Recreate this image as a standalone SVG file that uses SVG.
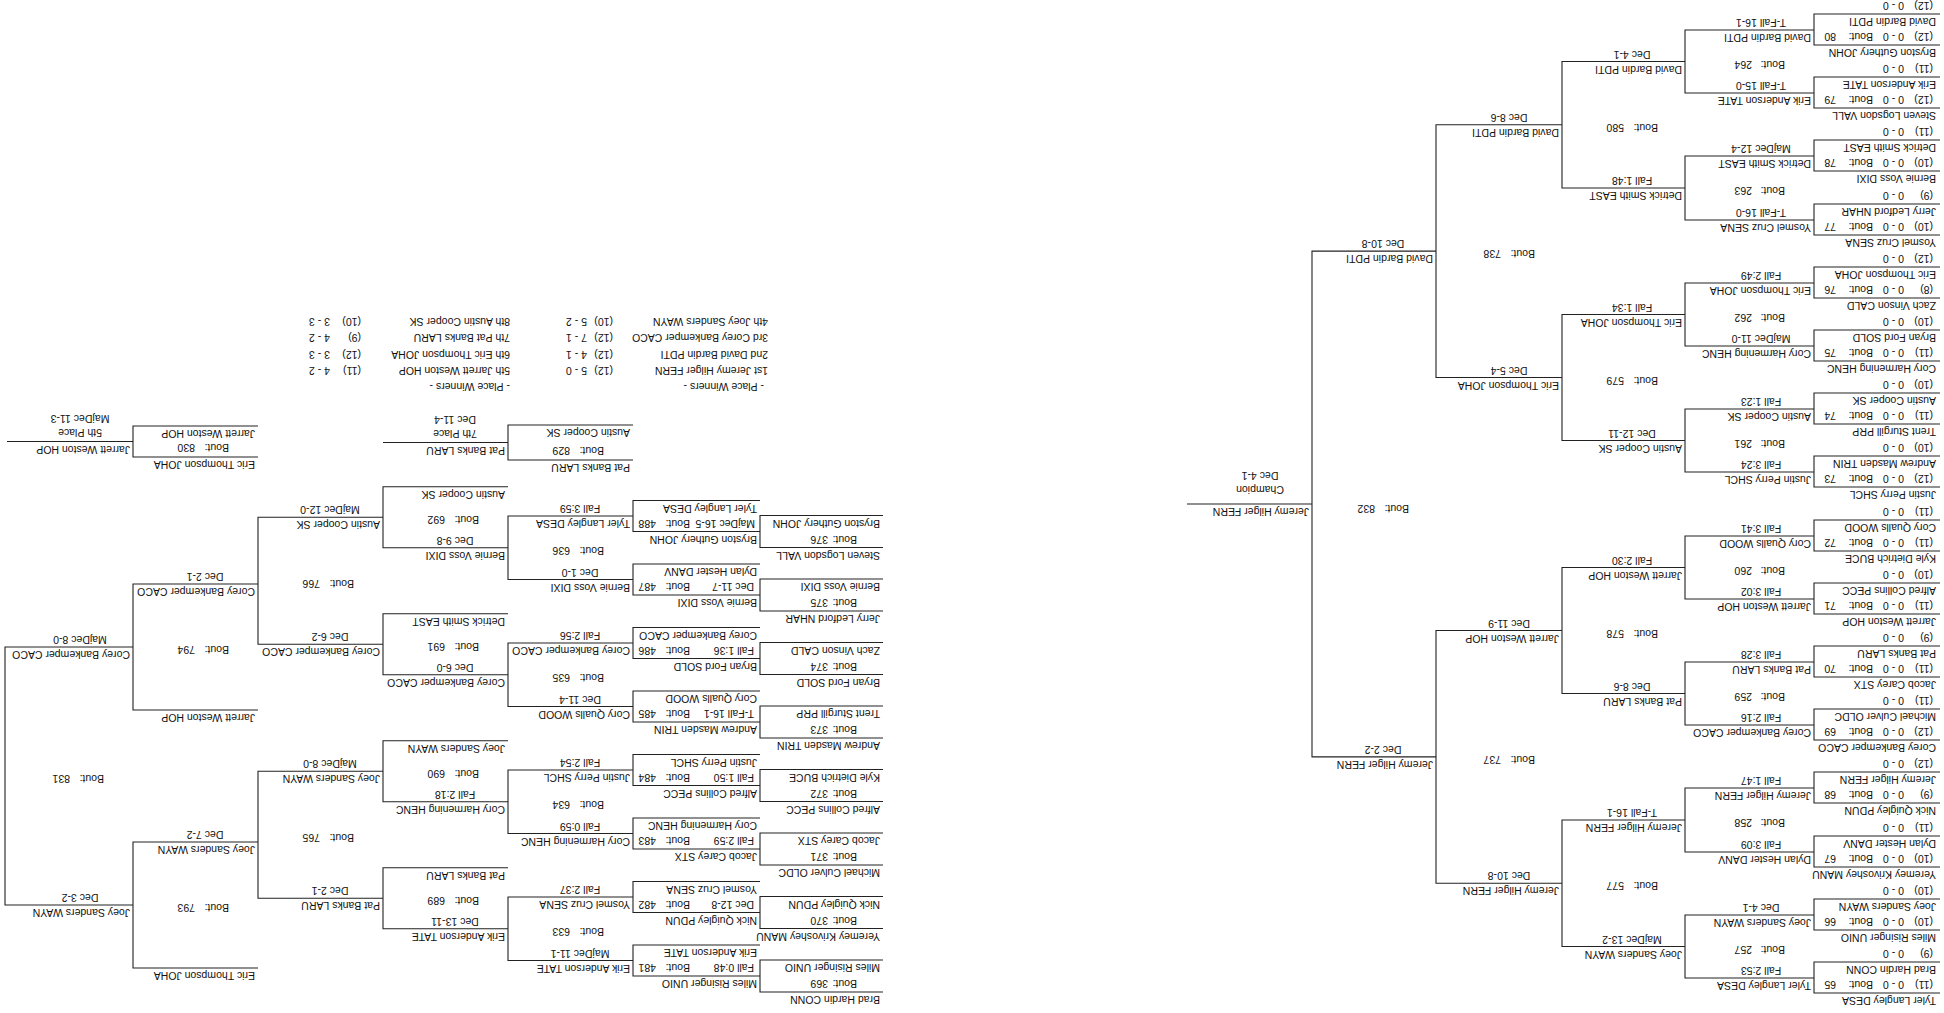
<svg xmlns="http://www.w3.org/2000/svg" width="1944" height="1013" viewBox="0 0 1944 1013">
<style>
text{font-family:"Liberation Sans",Arial,sans-serif;font-size:10.5px;fill:#111}
.m{text-anchor:middle}
#connectors path{stroke:#222;stroke-width:1.1;fill:none}
</style>
<rect width="1944" height="1013" fill="#fff"/>
<g transform="rotate(180 972 506.5)">
<g id="connectors">
<path d="M4 20H130V51H4M4 83H130V114H4M4 146H130V177H4M4 210H130V241H4M4 273H130V304H4M4 336H130V367H4M4 399H130V430H4M4 462H130V493H4M4 526H130V557H4M4 589H130V620H4M4 652H130V683H4M4 715H130V746H4M4 778H130V809H4M4 842H130V873H4M4 905H130V936H4M4 968H130V999H4"/>
<path d="M130 35H259V98H130M130 161H259V225H130M130 288H259V351H130M130 414H259V477H130M130 541H259V604H130M130 667H259V730H130M130 793H259V857H130M130 920H259V983H130"/>
<path d="M259 66.5H382V193H259M259 319.5H382V445.5H259M259 572.5H382V698.5H259M259 825H382V951.5H259"/>
<path d="M382 129.75H508V382.5H382M382 635.5H508V888.25H382"/>
<path d="M508 256.1H632V761.9H508M632 509H757"/>
<path d="M1061 21H1184V53H1061M1061 84.5H1184V116.5H1061M1061 148H1184V180H1061M1061 211.5H1184V243.5H1061M1061 275H1184V307H1061M1061 338.5H1184V370.5H1061M1061 402H1184V434H1061M1061 465.5H1184V497.5H1061"/>
<path d="M1184 37H1311V68H1184M1184 100.5H1311V131.5H1184M1184 164H1311V195H1184M1184 227.5H1311V258.5H1184M1184 291H1311V322H1184M1184 354.5H1311V385.5H1184M1184 418H1311V449H1184M1184 481.5H1311V512.5H1184"/>
<path d="M1311 52.5H1436V116H1311M1311 179.5H1436V243H1311M1311 306.5H1436V370H1311M1311 433.5H1436V497H1311"/>
<path d="M1436 84.25H1561V145.25H1436M1436 211.25H1561V272.25H1436M1436 338.25H1561V399.25H1436M1436 465.25H1561V526.25H1436"/>
<path d="M1561 114.75H1686V241.75H1561M1561 368.75H1686V495.75H1561"/>
<path d="M1686 45H1811V171H1686M1686 303H1811V429H1686M1811 108H1939V366H1811"/>
<path d="M1686 556H1811V587H1686M1811 571.5H1937M1311 553H1436V588H1311M1436 570.5H1561"/>
</g>
<g id="bout-65"><text x="8" y="16">Tyler Langley DESA</text><text x="11" y="32">(11)</text><text x="40" y="32">0 - 0</text><text x="71" y="32">Bout:</text><text x="108" y="32">65</text><text x="8" y="47">Brad Hardin CONN</text><text x="11" y="63">(9)</text><text x="40" y="63">0 - 0</text></g>
<g id="bout-66"><text x="8" y="79">Miles Risinger UNIO</text><text x="11" y="95">(10)</text><text x="40" y="95">0 - 0</text><text x="71" y="95">Bout:</text><text x="108" y="95">66</text><text x="8" y="110">Joey Sanders WAYN</text><text x="11" y="126">(10)</text><text x="40" y="126">0 - 0</text></g>
<g id="bout-67"><text x="8" y="142">Yeremey Krivoshey MANU</text><text x="11" y="158">(10)</text><text x="40" y="158">0 - 0</text><text x="71" y="158">Bout:</text><text x="108" y="158">67</text><text x="8" y="173">Dylan Hester DANV</text><text x="11" y="189">(11)</text><text x="40" y="189">0 - 0</text></g>
<g id="bout-68"><text x="8" y="206">Nick Quigley PDUN</text><text x="11" y="222">(9)</text><text x="40" y="222">0 - 0</text><text x="71" y="222">Bout:</text><text x="108" y="222">68</text><text x="8" y="237">Jeremy Hilger FERN</text><text x="11" y="253">(12)</text><text x="40" y="253">0 - 0</text></g>
<g id="bout-69"><text x="8" y="269">Corey Bankemper CACO</text><text x="11" y="285">(12)</text><text x="40" y="285">0 - 0</text><text x="71" y="285">Bout:</text><text x="108" y="285">69</text><text x="8" y="300">Michael Culver OLDC</text><text x="11" y="316">(11)</text><text x="40" y="316">0 - 0</text></g>
<g id="bout-70"><text x="8" y="332">Jacob Carey STX</text><text x="11" y="348">(11)</text><text x="40" y="348">0 - 0</text><text x="71" y="348">Bout:</text><text x="108" y="348">70</text><text x="8" y="363">Pat Banks LARU</text><text x="11" y="379">(9)</text><text x="40" y="379">0 - 0</text></g>
<g id="bout-71"><text x="8" y="395">Jarrett Weston HOP</text><text x="11" y="411">(11)</text><text x="40" y="411">0 - 0</text><text x="71" y="411">Bout:</text><text x="108" y="411">71</text><text x="8" y="426">Alfred Collins PECC</text><text x="11" y="442">(10)</text><text x="40" y="442">0 - 0</text></g>
<g id="bout-72"><text x="8" y="458">Kyle Dietrich BUCE</text><text x="11" y="474">(11)</text><text x="40" y="474">0 - 0</text><text x="71" y="474">Bout:</text><text x="108" y="474">72</text><text x="8" y="489">Cory Qualls WOOD</text><text x="11" y="505">(11)</text><text x="40" y="505">0 - 0</text></g>
<g id="bout-73"><text x="8" y="522">Justin Perry SHCL</text><text x="11" y="538">(12)</text><text x="40" y="538">0 - 0</text><text x="71" y="538">Bout:</text><text x="108" y="538">73</text><text x="8" y="553">Andrew Masden TRIN</text><text x="11" y="569">(10)</text><text x="40" y="569">0 - 0</text></g>
<g id="bout-74"><text x="8" y="585">Trent Sturgill PRP</text><text x="11" y="601">(11)</text><text x="40" y="601">0 - 0</text><text x="71" y="601">Bout:</text><text x="108" y="601">74</text><text x="8" y="616">Austin Cooper SK</text><text x="11" y="632">(10)</text><text x="40" y="632">0 - 0</text></g>
<g id="bout-75"><text x="8" y="648">Cory Harmening HENC</text><text x="11" y="664">(11)</text><text x="40" y="664">0 - 0</text><text x="71" y="664">Bout:</text><text x="108" y="664">75</text><text x="8" y="679">Bryan Ford SOLD</text><text x="11" y="695">(10)</text><text x="40" y="695">0 - 0</text></g>
<g id="bout-76"><text x="8" y="711">Zach Vinson CALD</text><text x="11" y="727">(8)</text><text x="40" y="727">0 - 0</text><text x="71" y="727">Bout:</text><text x="108" y="727">76</text><text x="8" y="742">Eric Thompson JOHA</text><text x="11" y="758">(12)</text><text x="40" y="758">0 - 0</text></g>
<g id="bout-77"><text x="8" y="774">Yosmel Cruz SENA</text><text x="11" y="790">(10)</text><text x="40" y="790">0 - 0</text><text x="71" y="790">Bout:</text><text x="108" y="790">77</text><text x="8" y="805">Jerry Ledford NHAR</text><text x="11" y="821">(9)</text><text x="40" y="821">0 - 0</text></g>
<g id="bout-78"><text x="8" y="838">Bernie Voss DIXI</text><text x="11" y="854">(10)</text><text x="40" y="854">0 - 0</text><text x="71" y="854">Bout:</text><text x="108" y="854">78</text><text x="8" y="869">Detrick Smith EAST</text><text x="11" y="885">(11)</text><text x="40" y="885">0 - 0</text></g>
<g id="bout-79"><text x="8" y="901">Steven Logsdon VALL</text><text x="11" y="917">(12)</text><text x="40" y="917">0 - 0</text><text x="71" y="917">Bout:</text><text x="108" y="917">79</text><text x="8" y="932">Erik Anderson TATE</text><text x="11" y="948">(11)</text><text x="40" y="948">0 - 0</text></g>
<g id="bout-80"><text x="8" y="964">Bryston Guthery JOHN</text><text x="11" y="980">(12)</text><text x="40" y="980">0 - 0</text><text x="71" y="980">Bout:</text><text x="108" y="980">80</text><text x="8" y="995">David Bardin PDTI</text><text x="11" y="1011">(12)</text><text x="40" y="1011">0 - 0</text></g>
<g id="bout-257"><text x="133" y="31">Tyler Langley DESA</text><text class="m" x="183" y="46">Fall 2:53</text><text x="159" y="67.5">Bout:</text><text x="192" y="67.5">257</text><text x="133" y="94">Joey Sanders WAYN</text><text class="m" x="183" y="109">Dec 4-1</text></g>
<g id="bout-258"><text x="133" y="157">Dylan Hester DANV</text><text class="m" x="183" y="172">Fall 3:09</text><text x="159" y="194">Bout:</text><text x="192" y="194">258</text><text x="133" y="221">Jeremy Hilger FERN</text><text class="m" x="183" y="236">Fall 1:47</text></g>
<g id="bout-259"><text x="133" y="284">Corey Bankemper CACO</text><text class="m" x="183" y="299">Fall 2:16</text><text x="159" y="320.5">Bout:</text><text x="192" y="320.5">259</text><text x="133" y="347">Pat Banks LARU</text><text class="m" x="183" y="362">Fall 3:28</text></g>
<g id="bout-260"><text x="133" y="410">Jarrett Weston HOP</text><text class="m" x="183" y="425">Fall 3:02</text><text x="159" y="446.5">Bout:</text><text x="192" y="446.5">260</text><text x="133" y="473">Cory Qualls WOOD</text><text class="m" x="183" y="488">Fall 3:41</text></g>
<g id="bout-261"><text x="133" y="537">Justin Perry SHCL</text><text class="m" x="183" y="552">Fall 3:24</text><text x="159" y="573.5">Bout:</text><text x="192" y="573.5">261</text><text x="133" y="600">Austin Cooper SK</text><text class="m" x="183" y="615">Fall 1:23</text></g>
<g id="bout-262"><text x="133" y="663">Cory Harmening HENC</text><text class="m" x="183" y="678">MajDec 11-0</text><text x="159" y="699.5">Bout:</text><text x="192" y="699.5">262</text><text x="133" y="726">Eric Thompson JOHA</text><text class="m" x="183" y="741">Fall 2:49</text></g>
<g id="bout-263"><text x="133" y="789">Yosmel Cruz SENA</text><text class="m" x="183" y="804">T-Fall 16-0</text><text x="159" y="826">Bout:</text><text x="192" y="826">263</text><text x="133" y="853">Detrick Smith EAST</text><text class="m" x="183" y="868">MajDec 12-4</text></g>
<g id="bout-264"><text x="133" y="916">Erik Anderson TATE</text><text class="m" x="183" y="931">T-Fall 15-0</text><text x="159" y="952.5">Bout:</text><text x="192" y="952.5">264</text><text x="133" y="979">David Bardin PDTI</text><text class="m" x="183" y="994">T-Fall 16-1</text></g>
<g id="bout-577"><text x="262" y="62.5">Joey Sanders WAYN</text><text class="m" x="312" y="77.5">MajDec 13-2</text><text x="286" y="130.75">Bout:</text><text x="320" y="130.75">577</text><text x="262" y="189">Jeremy Hilger FERN</text><text class="m" x="312" y="204">T-Fall 16-1</text></g>
<g id="bout-578"><text x="262" y="315.5">Pat Banks LARU</text><text class="m" x="312" y="330.5">Dec 8-6</text><text x="286" y="383.5">Bout:</text><text x="320" y="383.5">578</text><text x="262" y="441.5">Jarrett Weston HOP</text><text class="m" x="312" y="456.5">Fall 2:30</text></g>
<g id="bout-579"><text x="262" y="568.5">Austin Cooper SK</text><text class="m" x="312" y="583.5">Dec 12-11</text><text x="286" y="636.5">Bout:</text><text x="320" y="636.5">579</text><text x="262" y="694.5">Eric Thompson JOHA</text><text class="m" x="312" y="709.5">Fall 1:34</text></g>
<g id="bout-580"><text x="262" y="821">Detrick Smith EAST</text><text class="m" x="312" y="836">Fall 1:48</text><text x="286" y="889.25">Bout:</text><text x="320" y="889.25">580</text><text x="262" y="947.5">David Bardin PDTI</text><text class="m" x="312" y="962.5">Dec 4-1</text></g>
<g id="bout-737"><text x="385" y="125.75">Jeremy Hilger FERN</text><text class="m" x="435" y="140.75">Dec 10-8</text><text x="409" y="257.1">Bout:</text><text x="443" y="257.1">737</text><text x="385" y="378.5">Jarrett Weston HOP</text><text class="m" x="435" y="393.5">Dec 11-9</text></g>
<g id="bout-738"><text x="385" y="631.5">Eric Thompson JOHA</text><text class="m" x="435" y="646.5">Dec 5-4</text><text x="409" y="762.9">Bout:</text><text x="443" y="762.9">738</text><text x="385" y="884.25">David Bardin PDTI</text><text class="m" x="435" y="899.25">Dec 8-6</text></g>
<g id="bout-832"><text x="511" y="252.1">Jeremy Hilger FERN</text><text class="m" x="561" y="267.1">Dec 2-2</text><text x="535" y="508">Bout:</text><text x="569" y="508">832</text><text x="511" y="757.9">David Bardin PDTI</text><text class="m" x="561" y="772.9">Dec 10-8</text></g>
<g id="champion"><text x="635" y="505">Jeremy Hilger FERN</text><text class="m" x="684" y="527">Champion</text><text class="m" x="684" y="541">Dec 4-1</text></g>
<g id="bout-369"><text x="1064" y="17">Brad Hardin CONN</text><text x="1087" y="33">Bout:</text><text x="1116" y="33">369</text><text x="1064" y="49">Miles Risinger UNIO</text></g>
<g id="bout-370"><text x="1064" y="80.5">Yeremey Krivoshey MANU</text><text x="1087" y="96.5">Bout:</text><text x="1116" y="96.5">370</text><text x="1064" y="112.5">Nick Quigley PDUN</text></g>
<g id="bout-371"><text x="1064" y="144">Michael Culver OLDC</text><text x="1087" y="160">Bout:</text><text x="1116" y="160">371</text><text x="1064" y="176">Jacob Carey STX</text></g>
<g id="bout-372"><text x="1064" y="207.5">Alfred Collins PECC</text><text x="1087" y="223.5">Bout:</text><text x="1116" y="223.5">372</text><text x="1064" y="239.5">Kyle Dietrich BUCE</text></g>
<g id="bout-373"><text x="1064" y="271">Andrew Masden TRIN</text><text x="1087" y="287">Bout:</text><text x="1116" y="287">373</text><text x="1064" y="303">Trent Sturgill PRP</text></g>
<g id="bout-374"><text x="1064" y="334.5">Bryan Ford SOLD</text><text x="1087" y="350.5">Bout:</text><text x="1116" y="350.5">374</text><text x="1064" y="366.5">Zach Vinson CALD</text></g>
<g id="bout-375"><text x="1064" y="398">Jerry Ledford NHAR</text><text x="1087" y="414">Bout:</text><text x="1116" y="414">375</text><text x="1064" y="430">Bernie Voss DIXI</text></g>
<g id="bout-376"><text x="1064" y="461.5">Steven Logsdon VALL</text><text x="1087" y="477.5">Bout:</text><text x="1116" y="477.5">376</text><text x="1064" y="493.5">Bryston Guthery JOHN</text></g>
<g id="bout-481"><text x="1187" y="33">Miles Risinger UNIO</text><text x="1190" y="49">Fall 0:48</text><text x="1254" y="49">Bout:</text><text x="1288" y="49">481</text><text x="1187" y="64">Erik Anderson TATE</text></g>
<g id="bout-482"><text x="1187" y="96.5">Nick Quigley PDUN</text><text x="1190" y="112.5">Dec 12-8</text><text x="1254" y="112.5">Bout:</text><text x="1288" y="112.5">482</text><text x="1187" y="127.5">Yosmel Cruz SENA</text></g>
<g id="bout-483"><text x="1187" y="160">Jacob Carey STX</text><text x="1190" y="176">Fall 2:59</text><text x="1254" y="176">Bout:</text><text x="1288" y="176">483</text><text x="1187" y="191">Cory Harmening HENC</text></g>
<g id="bout-484"><text x="1187" y="223.5">Alfred Collins PECC</text><text x="1190" y="239.5">Fall 1:50</text><text x="1254" y="239.5">Bout:</text><text x="1288" y="239.5">484</text><text x="1187" y="254.5">Justin Perry SHCL</text></g>
<g id="bout-485"><text x="1187" y="287">Andrew Masden TRIN</text><text x="1190" y="303">T-Fall 16-1</text><text x="1254" y="303">Bout:</text><text x="1288" y="303">485</text><text x="1187" y="318">Cory Qualls WOOD</text></g>
<g id="bout-486"><text x="1187" y="350.5">Bryan Ford SOLD</text><text x="1190" y="366.5">Fall 1:36</text><text x="1254" y="366.5">Bout:</text><text x="1288" y="366.5">486</text><text x="1187" y="381.5">Corey Bankemper CACO</text></g>
<g id="bout-487"><text x="1187" y="414">Bernie Voss DIXI</text><text x="1190" y="430">Dec 11-7</text><text x="1254" y="430">Bout:</text><text x="1288" y="430">487</text><text x="1187" y="445">Dylan Hester DANV</text></g>
<g id="bout-488"><text x="1187" y="477.5">Bryston Guthery JOHN</text><text x="1189" y="493.5">MajDec 16-5</text><text x="1254" y="493.5">Bout:</text><text x="1288" y="493.5">488</text><text x="1187" y="508.5">Tyler Langley DESA</text></g>
<g id="bout-633"><text x="1314" y="48.5">Erik Anderson TATE</text><text class="m" x="1364" y="63.5">MajDec 11-1</text><text x="1340" y="85.25">Bout:</text><text x="1374" y="85.25">633</text><text x="1314" y="112">Yosmel Cruz SENA</text><text class="m" x="1364" y="127">Fall 2:37</text></g>
<g id="bout-634"><text x="1314" y="175.5">Cory Harmening HENC</text><text class="m" x="1364" y="190.5">Fall 0:59</text><text x="1340" y="212.25">Bout:</text><text x="1374" y="212.25">634</text><text x="1314" y="239">Justin Perry SHCL</text><text class="m" x="1364" y="254">Fall 2:54</text></g>
<g id="bout-635"><text x="1314" y="302.5">Cory Qualls WOOD</text><text class="m" x="1364" y="317.5">Dec 11-4</text><text x="1340" y="339.25">Bout:</text><text x="1374" y="339.25">635</text><text x="1314" y="366">Corey Bankemper CACO</text><text class="m" x="1364" y="381">Fall 2:56</text></g>
<g id="bout-636"><text x="1314" y="429.5">Bernie Voss DIXI</text><text class="m" x="1364" y="444.5">Dec 1-0</text><text x="1340" y="466.25">Bout:</text><text x="1374" y="466.25">636</text><text x="1314" y="493">Tyler Langley DESA</text><text class="m" x="1364" y="508">Fall 3:59</text></g>
<g id="bout-689"><text x="1439" y="80.25">Erik Anderson TATE</text><text class="m" x="1489" y="95.25">Dec 13-11</text><text x="1465" y="115.75">Bout:</text><text x="1499" y="115.75">689</text><text x="1439" y="141.25">Pat Banks LARU</text></g>
<g id="bout-690"><text x="1439" y="207.25">Cory Harmening HENC</text><text class="m" x="1489" y="222.25">Fall 2:18</text><text x="1465" y="242.75">Bout:</text><text x="1499" y="242.75">690</text><text x="1439" y="268.25">Joey Sanders WAYN</text></g>
<g id="bout-691"><text x="1439" y="334.25">Corey Bankemper CACO</text><text class="m" x="1489" y="349.25">Dec 6-0</text><text x="1465" y="369.75">Bout:</text><text x="1499" y="369.75">691</text><text x="1439" y="395.25">Detrick Smith EAST</text></g>
<g id="bout-692"><text x="1439" y="461.25">Bernie Voss DIXI</text><text class="m" x="1489" y="476.25">Dec 9-8</text><text x="1465" y="496.75">Bout:</text><text x="1499" y="496.75">692</text><text x="1439" y="522.25">Austin Cooper SK</text></g>
<g id="bout-765"><text x="1564" y="110.75">Pat Banks LARU</text><text class="m" x="1614" y="125.75">Dec 2-1</text><text x="1590" y="179.25">Bout:</text><text x="1624" y="179.25">765</text><text x="1564" y="237.75">Joey Sanders WAYN</text><text class="m" x="1614" y="252.75">MajDec 8-0</text></g>
<g id="bout-766"><text x="1564" y="364.75">Corey Bankemper CACO</text><text class="m" x="1614" y="379.75">Dec 6-2</text><text x="1590" y="433.25">Bout:</text><text x="1624" y="433.25">766</text><text x="1564" y="491.75">Austin Cooper SK</text><text class="m" x="1614" y="506.75">MajDec 12-0</text></g>
<g id="bout-793"><text x="1689" y="41">Eric Thompson JOHA</text><text x="1715" y="109">Bout:</text><text x="1749" y="109">793</text><text x="1689" y="167">Joey Sanders WAYN</text><text class="m" x="1739" y="182">Dec 7-2</text></g>
<g id="bout-794"><text x="1689" y="299">Jarrett Weston HOP</text><text x="1715" y="367">Bout:</text><text x="1749" y="367">794</text><text x="1689" y="425">Corey Bankemper CACO</text><text class="m" x="1739" y="440">Dec 2-1</text></g>
<g id="bout-831"><text x="1814" y="104">Joey Sanders WAYN</text><text class="m" x="1864" y="119">Dec 3-2</text><text x="1840" y="238">Bout:</text><text x="1874" y="238">831</text><text x="1814" y="362">Corey Bankemper CACO</text><text class="m" x="1864" y="377">MajDec 8-0</text></g>
<g id="bout-830"><text x="1689" y="552">Eric Thompson JOHA</text><text x="1715" y="569">Bout:</text><text x="1749" y="569">830</text><text x="1689" y="583">Jarrett Weston HOP</text></g>
<g id="fifth-place"><text x="1814" y="567.5">Jarrett Weston HOP</text><text class="m" x="1864" y="584">5th Place</text><text class="m" x="1864" y="598">MajDec 11-3</text></g>
<g id="bout-829"><text x="1314" y="549">Pat Banks LARU</text><text x="1340" y="566">Bout:</text><text x="1374" y="566">829</text><text x="1314" y="584">Austin Cooper SK</text></g>
<g id="seventh-place"><text x="1439" y="566.5">Pat Banks LARU</text><text class="m" x="1489" y="583">7th Place</text><text class="m" x="1489" y="597">Dec 11-4</text></g>
<g id="place-winners-1">
<text x="1180" y="630">- Place Winners -</text>
<text x="1176" y="646">1st Jeremy Hilger FERN</text><text x="1331" y="646">(12)</text><text x="1357" y="646">5 - 0</text>
<text x="1176" y="662">2nd David Bardin PDTI</text><text x="1331" y="662">(12)</text><text x="1357" y="662">4 - 1</text>
<text x="1176" y="679">3rd Corey Bankemper CACO</text><text x="1331" y="679">(12)</text><text x="1357" y="679">7 - 1</text>
<text x="1176" y="695">4th Joey Sanders WAYN</text><text x="1331" y="695">(10)</text><text x="1357" y="695">5 - 2</text>
</g>
<g id="place-winners-2">
<text x="1434" y="630">- Place Winners -</text>
<text x="1434" y="646">5th Jarrett Weston HOP</text><text x="1583" y="646">(11)</text><text x="1614" y="646">4 - 2</text>
<text x="1434" y="662">6th Eric Thompson JOHA</text><text x="1583" y="662">(12)</text><text x="1614" y="662">3 - 3</text>
<text x="1434" y="679">7th Pat Banks LARU</text><text x="1583" y="679">(9)</text><text x="1614" y="679">4 - 2</text>
<text x="1434" y="695">8th Austin Cooper SK</text><text x="1583" y="695">(10)</text><text x="1614" y="695">3 - 3</text>
</g>
</g>
</svg>
